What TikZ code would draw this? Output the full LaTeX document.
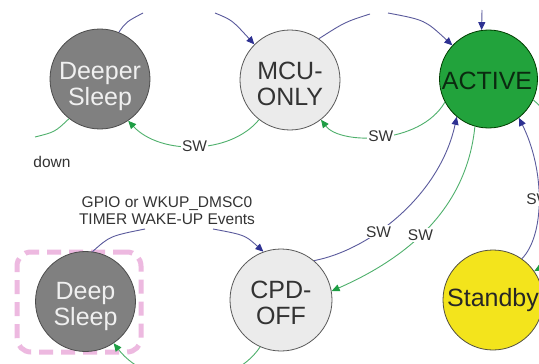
\documentclass[tikz,border=0pt]{standalone}
\usepackage{fontspec}
\setmainfont{Liberation Sans}
\usetikzlibrary{arrows.meta}
\definecolor{stateGray}{HTML}{808080}
\definecolor{stateLight}{HTML}{EBEBEB}
\definecolor{stateGreen}{HTML}{22A33C}
\definecolor{stateYellow}{HTML}{F3E41C}
\definecolor{edgeBlue}{HTML}{5A5A9C}
\definecolor{tipBlue}{HTML}{2E3192}
\definecolor{edgeGreen}{HTML}{4FB06C}
\definecolor{tipGreen}{HTML}{1E9E44}
\definecolor{focusPink}{HTML}{EDB9E0}
\definecolor{inkDark}{HTML}{333333}
\definecolor{inkGreen}{HTML}{0B2A10}

\begin{document}
\begin{tikzpicture}[x=1pt,y=-1pt,
  statebase/.style={circle,inner sep=0pt,minimum size=100pt,line width=0.8pt},
  darkstate/.style={statebase,fill=stateGray,draw=black!70},
  lightstate/.style={statebase,fill=stateLight,draw=black!65},
  bigtext/.style={align=center,inner sep=0pt,font=\fontsize{25}{26}\selectfont},
  smalltext/.style={font=\fontsize{15.5}{17}\selectfont,text=inkDark},
  swlabel/.style={smalltext,fill=white,inner sep=1.2pt},
  blueline/.style={draw=edgeBlue,line width=0.9pt},
  greenline/.style={draw=edgeGreen,line width=0.9pt},
  bluearrow/.style={blueline,-{Triangle[length=8pt,width=7pt,color=tipBlue]}},
  greenarrow/.style={greenline,-{Triangle[length=8pt,width=7pt,color=tipGreen]}},
  focusbox/.style={draw=focusPink,line width=5pt,rounded corners=14pt,
    dash pattern=on 14pt off 8pt,minimum width=124pt,minimum height=100pt,inner sep=0pt},
]
\useasboundingbox (0,0) rectangle (539,364);
\fill[white] (0,0) rectangle (539,364);
\clip (0,0) rectangle (539,364);

% highlight frame around the deep sleep state
\node[focusbox] (focus) at (79,302) {};

% states
\node[darkstate] (deeper) at (100,79) {};
\node[bigtext,text=white!94!black] (deeper-t) at (100,86) {Deeper\\Sleep};
\node[lightstate] (mcu) at (290,80) {};
\node[bigtext,text=inkDark] (mcu-t) at (290,84) {MCU-\\ONLY};
\node[statebase,minimum size=98pt,fill=stateGreen,draw=black!60!green!60!black] (active) at (488.5,79) {};
\node[bigtext,text=inkGreen] (active-t) at (487,81) {ACTIVE};
\node[darkstate] (deepsl) at (85.5,301.5) {};
\node[bigtext,text=white!94!black] (deepsl-t) at (85.5,306) {Deep\\Sleep};
\node[lightstate,minimum size=102pt] (cpd) at (281,300) {};
\node[bigtext,text=inkDark] (cpd-t) at (281,303) {CPD-\\OFF};
\node[statebase,fill=stateYellow,draw=black!55!yellow!50!black] (standby) at (493,300) {};
\node[bigtext,text=black!85] (standby-t) at (493,300) {Standby};

% free ends of the connectors
\coordinate (a1) at (143,13);
\coordinate (a2) at (215,13);
\coordinate (b1) at (370,14);
\coordinate (b2) at (388,13);
\coordinate (c1) at (482,10);
\coordinate (f1) at (35,137);
\coordinate (k1) at (145,229);
\coordinate (k2) at (213,229);

% Deeper Sleep -> MCU-ONLY
\draw[blueline] (deeper.68) .. controls (126,22) .. (a1);
\draw[bluearrow] (a2) .. controls (232,20) .. (mcu.135);
% MCU-ONLY -> ACTIVE
\draw[blueline] (mcu.55) .. controls (345,22) .. (b1);
\draw[bluearrow] (b2) .. controls (425,20) .. (active.137);
% incoming from above into ACTIVE
\draw[bluearrow] (c1) -- (active.98);
% MCU-ONLY -> Deeper Sleep
\draw[greenarrow] (mcu.-128) .. controls (230,155) and (160,155) .. (deeper.-56)
  node[swlabel,pos=.5] (sw1) {SW};
% ACTIVE -> MCU-ONLY
\draw[greenarrow] (active.-152) .. controls (420,145) and (340,145) .. (mcu.-52)
  node[swlabel,pos=.5] (sw2) {SW};
% Deeper Sleep outgoing (power down)
\draw[greenline] (deeper.-128) .. controls (55,132) .. (f1);
\node[smalltext] (down) at (52,162) {down};
% CPD-OFF -> ACTIVE
\draw[bluearrow] (cpd.50) .. controls (370,250) and (440,195) .. (active.-130)
  node[swlabel,pos=.37] (sw3) {SW};
% ACTIVE -> CPD-OFF
\draw[greenarrow] (active.-106) .. controls (468,195) and (425,250) .. (cpd.10)
  node[swlabel,pos=.6] (sw4) {SW};
% Standby -> ACTIVE
\draw[bluearrow] (standby.55) .. controls (545,235) and (545,170) .. (active.-52)
  node[swlabel,pos=.5] (sw5) {SW};
% ACTIVE -> Standby
\draw[greenarrow] (active.-25) .. controls (590,150) and (590,240) .. (standby.35);
% Deep Sleep -> CPD-OFF on wake-up events
\draw[blueline] (deepsl.82) .. controls (110,236) .. (k1);
\draw[bluearrow] (k2) .. controls (245,235) .. (cpd.110);
\node[smalltext,align=center] (wake) at (167,210.5) {GPIO or WKUP\_DMSC0\\TIMER WAKE-UP Events};
% CPD-OFF -> Deep Sleep
\draw[greenarrow] (cpd.-114) .. controls (230,392) and (150,390) .. (deepsl.-56);
\end{tikzpicture}
\end{document}
